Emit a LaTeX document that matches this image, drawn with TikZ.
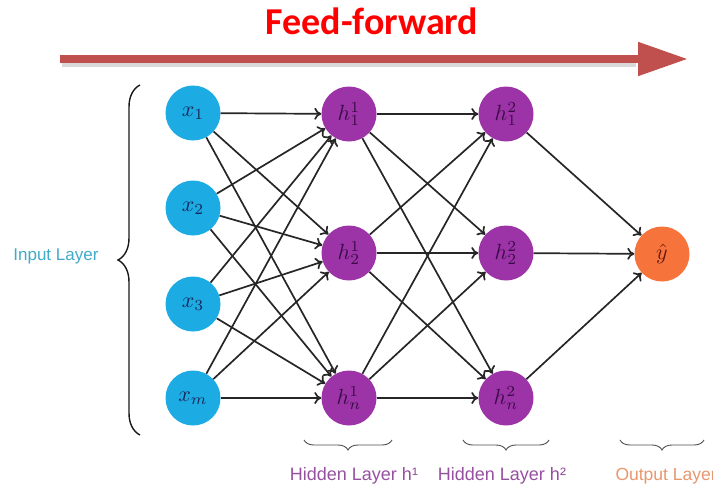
\documentclass[tikz,border=0pt]{standalone}
\usepackage{fontspec}
\newfontfamily\labelfont{Liberation Sans}
\newfontfamily\titlefont{Carlito}
\usetikzlibrary{arrows.meta,decorations.pathreplacing}

\definecolor{cInput}{RGB}{28,171,226}
\definecolor{cHidden}{RGB}{156,52,168}
\definecolor{cOut}{RGB}{246,116,60}
\definecolor{cInText}{RGB}{25,40,90}
\definecolor{cHidText}{RGB}{60,10,70}
\definecolor{cOutText}{RGB}{100,25,15}
\definecolor{cInLbl}{RGB}{66,170,200}
\definecolor{cHidLbl}{RGB}{150,80,160}
\definecolor{cOutLbl}{RGB}{232,150,110}
\definecolor{cArrow}{RGB}{192,80,77}

% neuron symbols, enlarged math
\newcommand\neuronsym[1]{\scalebox{2.2}{$#1$}}

\begin{document}
\begin{tikzpicture}[x=1pt,y=-1pt,
  neuron/.style={circle, minimum size=55pt, inner sep=0pt},
  inneuron/.style={neuron, fill=cInput, text=cInText},
  hidneuron/.style={neuron, fill=cHidden, text=cHidText},
  outneuron/.style={neuron, fill=cOut, text=cOutText},
  link/.style={line width=1.7pt, black!85, -{To[length=7pt,width=12pt]}},
  layerbrace/.style={decorate, decoration={brace, amplitude=10pt},
                     line width=0.9pt, black!70},
  layerlabel/.style={font=\labelfont\fontsize{18}{20}\selectfont, anchor=base},
]
\useasboundingbox (0,0) rectangle (713,488);

% direction banner
\node[font=\titlefont\bfseries\fontsize{38}{40}\selectfont, text=red]
  (title) at (372,21) {Feed-forward};
\coordinate (fs) at (60,59);
\coordinate (fe) at (688,59);
\coordinate (fss) at (62,63);
\coordinate (fes) at (636,63);
\draw[line width=8pt, black!15] (fss) -- (fes);
\draw[line width=8pt, cArrow, -{Triangle[length=50pt,width=32pt]}] (fs) -- (fe);

% input layer
\node[inneuron] (x1) at (193,113) {\neuronsym{x_1}};
\node[inneuron] (x2) at (193,208) {\neuronsym{x_2}};
\node[inneuron] (x3) at (193,304) {\neuronsym{x_3}};
\node[inneuron] (xm) at (193,398) {\neuronsym{x_m}};

% first hidden layer
\node[hidneuron] (h11) at (349,114) {\neuronsym{h^1_1}};
\node[hidneuron] (h12) at (349,253) {\neuronsym{h^1_2}};
\node[hidneuron] (h1n) at (349,398) {\neuronsym{h^1_n}};

% second hidden layer
\node[hidneuron] (h21) at (506,114) {\neuronsym{h^2_1}};
\node[hidneuron] (h22) at (506,253) {\neuronsym{h^2_2}};
\node[hidneuron] (h2n) at (506,398) {\neuronsym{h^2_n}};

% output
\node[outneuron] (yhat) at (662,254) {\neuronsym{\hat{y}}};

% fully connected links
\foreach \a in {x1,x2,x3,xm}
  \foreach \b in {h11,h12,h1n}
    \draw[link] (\a) -- (\b);
\foreach \a in {h11,h12,h1n}
  \foreach \b in {h21,h22,h2n}
    \draw[link] (\a) -- (\b);
\foreach \a in {h21,h22,h2n}
  \draw[link] (\a) -- (yhat);

% input layer brace and label
\coordinate (ibB) at (140,435);
\coordinate (ibT) at (140,85);
\draw[decorate, decoration={brace, amplitude=22pt}, line width=1.4pt, black!90]
  (ibB) -- (ibT);
\node[anchor=east, font=\labelfont\fontsize{17}{19}\selectfont, text=cInLbl]
  (inlbl) at (102,256) {Input Layer};

% layer braces below
\coordinate (b1r) at (392,440); \coordinate (b1l) at (304,440);
\coordinate (b2r) at (549,440); \coordinate (b2l) at (463,440);
\coordinate (b3r) at (704,440); \coordinate (b3l) at (620,440);
\draw[layerbrace] (b1r) -- (b1l);
\draw[layerbrace] (b2r) -- (b2l);
\draw[layerbrace] (b3r) -- (b3l);

\node[layerlabel, text=cHidLbl] (l1) at (354,480) {Hidden Layer h¹};
\node[layerlabel, text=cHidLbl] (l2) at (502,480) {Hidden Layer h²};
\node[layerlabel, anchor=base west, font=\labelfont\fontsize{17.5}{20}\selectfont, text=cOutLbl]
  (l3) at (612,480) {Output Layer};
\end{tikzpicture}
\end{document}
